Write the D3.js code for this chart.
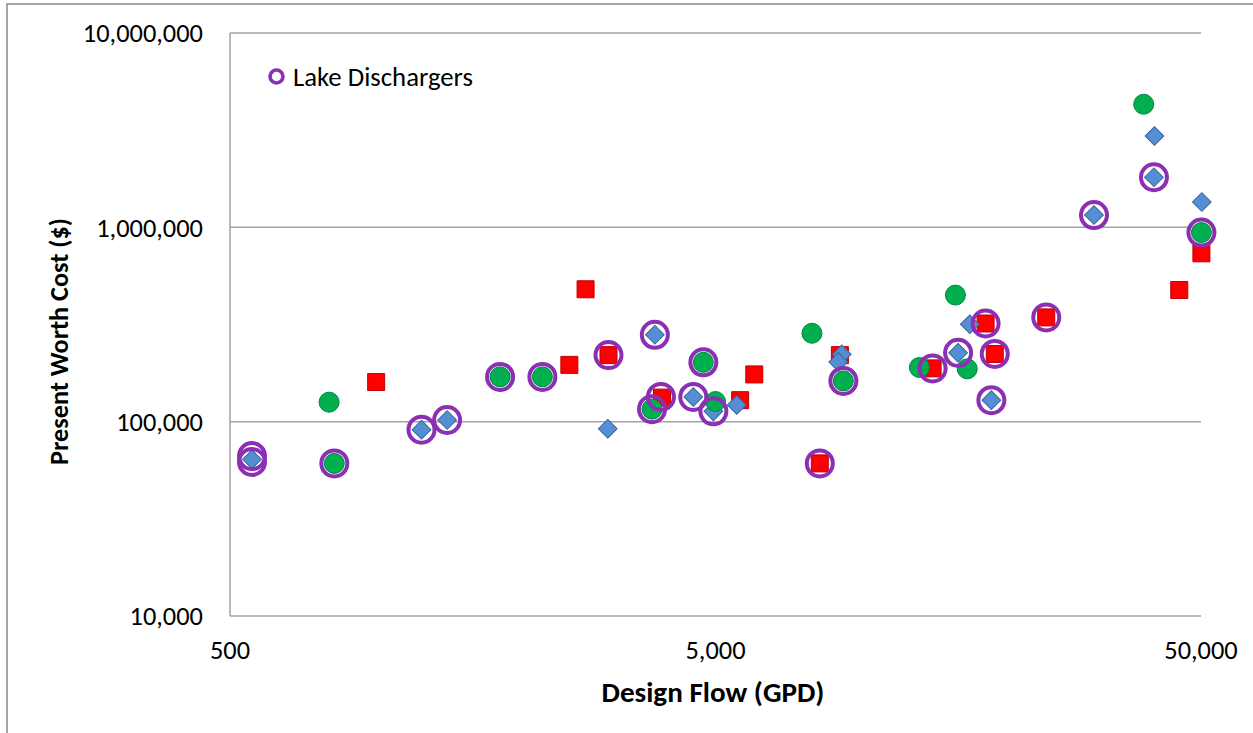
<!DOCTYPE html>
<html>
<head>
<meta charset="utf-8">
<script src="https://cdn.jsdelivr.net/npm/d3@7"></script>
<style>
  body { margin: 0; background: #fff; }
  svg { display: block; font-family: Carlito, Calibri, Lato, sans-serif; }
</style>
</head>
<body>
<svg id="chart"></svg>
<script>
// design flow (GPD) / present worth cost ($)
const diamondFlow = [555, 1240, 1400, 3000, 3750, 4500, 4950, 5530, 9100, 8950, 16700, 15800, 18500, 30100, 40100, 40000, 50200];
const diamondCost = [64000, 91000, 102000, 92000, 280000, 134000, 113000, 122000, 222000, 203000, 317000, 226000, 129000, 1157000, 2950000, 1810000, 1350000];

const squareFlow = [1000, 2500, 2700, 3010, 3880, 5620, 6010, 8200, 9020, 14000, 18000, 18800, 24000, 45100, 50100];
const squareCost = [160000, 196000, 480000, 220000, 133000, 129000, 175000, 61000, 220000, 188000, 320000, 223000, 344000, 476000, 735000];

const circleFlow = [800, 820, 1800, 2200, 3700, 4720, 5000, 7900, 9170, 13150, 15600, 16500, 38100, 50100];
const circleCost = [126000, 61000, 170000, 170000, 116000, 202000, 127000, 285000, 162000, 190000, 448000, 187000, 4300000, 940000];

const lakeFlow = [555, 555, 820, 1240, 1400, 1800, 2200, 3010, 3750, 3700, 3860, 4500, 4720, 4950, 8200, 9170, 14000, 15800, 18000, 18800, 18500, 24000, 30100, 40000, 50100];
const lakeCost = [66500, 62000, 61000, 91000, 102000, 170000, 170000, 220000, 280000, 116000, 134000, 134000, 202000, 113000, 61000, 162000, 188000, 226000, 320000, 223000, 129000, 344000, 1157000, 1810000, 940000];

const xTicks = [500, 5000, 50000];
const yTicks = [10000, 100000, 1000000, 10000000];

const width = 1253;
const height = 733;
const plot = { left: 230, right: 1201, top: 33, bottom: 616 };

const svg = d3.select('#chart')
  .attr('width', width)
  .attr('height', height);

// chart area border (runs off the right and bottom edges)
svg.append('rect')
  .attr('x', 7)
  .attr('y', 4)
  .attr('width', width + 20)
  .attr('height', height + 20)
  .attr('fill', '#fff')
  .attr('stroke', '#898989')
  .attr('stroke-width', 1.5);

const x = d3.scaleLog().domain([500, 50000]).range([plot.left, plot.right]);
const y = d3.scaleLog().domain([10000, 10000000]).range([plot.bottom, plot.top]);
const fmt = d3.format(',');

// scale a text's font so it spans the width seen in the original
function fitText(sel, target) {
  const base = parseFloat(sel.style('font-size'));
  const w = sel.node().getComputedTextLength();
  if (w > 0) sel.style('font-size', (base * target / w).toFixed(2) + 'px');
}

// horizontal gridlines
svg.append('g')
  .selectAll('line')
  .data(yTicks)
  .enter()
  .append('line')
  .attr('x1', plot.left)
  .attr('x2', plot.right)
  .attr('y1', d => y(d))
  .attr('y2', d => y(d))
  .attr('stroke', '#a3a3a3')
  .attr('stroke-width', 1.5);

// y axis line
svg.append('line')
  .attr('x1', plot.left)
  .attr('x2', plot.left)
  .attr('y1', plot.top)
  .attr('y2', plot.bottom)
  .attr('stroke', '#a3a3a3')
  .attr('stroke-width', 1.5);

svg.append('g')
  .selectAll('text')
  .data(yTicks)
  .enter()
  .append('text')
  .attr('x', 203)
  .attr('y', d => y(d))
  .attr('dy', '0.35em')
  .attr('text-anchor', 'end')
  .style('font-size', '26.4px')
  .attr('fill', '#000')
  .text(d => fmt(d));

svg.append('g')
  .selectAll('text')
  .data(xTicks)
  .enter()
  .append('text')
  .attr('x', d => x(d))
  .attr('y', 659)
  .attr('text-anchor', 'middle')
  .style('font-size', '26.4px')
  .attr('fill', '#000')
  .text(d => fmt(d));

const xTitle = svg.append('text')
  .attr('x', 713)
  .attr('y', 701.5)
  .attr('text-anchor', 'middle')
  .style('font-size', '27px')
  .style('font-weight', 'bold')
  .text('Design Flow (GPD)');
fitText(xTitle, 223);

const yTitle = svg.append('text')
  .attr('transform', 'translate(67.5,341.5) rotate(-90)')
  .attr('text-anchor', 'middle')
  .style('font-size', '27px')
  .style('font-weight', 'bold')
  .text('Present Worth Cost ($)');
fitText(yTitle, 247);

const marks = svg.append('g');

function drawSeries(flow, cost, symbol, size, fill, stroke, rotate) {
  const pts = flow.map((f, i) => [f, cost[i]]);
  marks.append('g')
    .selectAll('path')
    .data(pts)
    .enter()
    .append('path')
    .attr('d', d3.symbol().type(symbol).size(size))
    .attr('transform', d => `translate(${x(d[0])},${y(d[1])})` + (rotate ? ' rotate(45)' : ''))
    .attr('fill', fill)
    .attr('stroke', stroke)
    .attr('stroke-width', 1);
}

drawSeries(squareFlow, squareCost, d3.symbolSquare, 289, '#ff0000', '#c00000', false);
drawSeries(diamondFlow, diamondCost, d3.symbolSquare, 175, '#558ed5', '#35669f', true);
drawSeries(circleFlow, circleCost, d3.symbolCircle, 314, '#00b050', '#00863c', false);

// lake dischargers: hollow rings on top
marks.append('g')
  .selectAll('circle')
  .data(lakeFlow.map((f, i) => [f, lakeCost[i]]))
  .enter()
  .append('circle')
  .attr('cx', d => x(d[0]))
  .attr('cy', d => y(d[1]))
  .attr('r', 13)
  .attr('fill', 'none')
  .attr('stroke', '#8b2fb5')
  .attr('stroke-width', 4);

// legend
const legend = svg.append('g');
legend.append('circle')
  .attr('cx', 276.5)
  .attr('cy', 76.5)
  .attr('r', 6.5)
  .attr('fill', 'none')
  .attr('stroke', '#8b2fb5')
  .attr('stroke-width', 3.6);
const legendText = legend.append('text')
  .attr('x', 293)
  .attr('y', 76.5)
  .attr('dy', '0.35em')
  .style('font-size', '27px')
  .text('Lake Dischargers');
fitText(legendText, 180);
</script>
</body>
</html>
